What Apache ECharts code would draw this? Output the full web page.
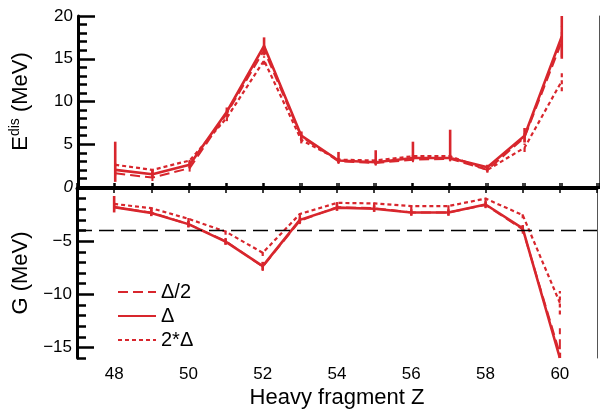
<!DOCTYPE html>
<html>
<head>
<meta charset="utf-8">
<script src="https://cdn.jsdelivr.net/npm/echarts@6/dist/echarts.min.js"></script>
<style>
  html, body { margin: 0; padding: 0; background: #fff; }
  #chart { width: 600px; height: 410px; }
</style>
</head>
<body>
<div id="chart"></div>
<script>
// Heavy fragment Z, shared by both panels
const zValues = [48, 49, 50, 51, 52, 53, 54, 55, 56, 57, 58, 59, 60];
const seriesNames = ['Δ/2', 'Δ', '2*Δ'];

// top panel: E_dis (MeV)
const eHalf = [1.6, 1.1, 2.2, 8.6, 16.0, 5.9, 3.0, 2.8, 3.2, 3.3, 2.0, 5.8, 17.0];
const eFull = [2.0, 1.5, 2.6, 8.8, 16.5, 6.0, 3.1, 2.9, 3.4, 3.4, 2.3, 6.0, 17.6];
const eDouble = [2.6, 2.0, 3.1, 8.1, 14.8, 5.5, 3.2, 3.1, 3.6, 3.6, 2.0, 4.6, 12.4];
// error bars as [below, above]
const eHalfErr = [[0.3, 0.3], [0.4, 0.4], [0.4, 0.4], [0.4, 0.4], [0.6, 0.6], [0.5, 0.5], [0.3, 0.3], [0.3, 0.3], [0.3, 0.3], [0.3, 0.3], [0.3, 0.3], [0.5, 0.5], [1.8, 1.8]];
const eFullErr = [[1.4, 3.3], [0.4, 0.5], [0.4, 0.4], [0.5, 0.5], [0.9, 1.0], [0.5, 0.5], [0.3, 1.0], [0.3, 1.4], [0.3, 1.9], [0.3, 3.3], [0.4, 0.3], [0.8, 0.9], [2.6, 2.6]];
const eDoubleErr = [[0.3, 0.3], [0.4, 0.4], [0.4, 0.4], [0.4, 0.4], [0.5, 0.5], [0.4, 0.4], [0.3, 0.3], [0.3, 0.3], [0.3, 0.3], [0.3, 0.3], [0.3, 0.3], [0.5, 0.5], [1.2, 1.2]];

// bottom panel: G (MeV)
const gHalf = [-1.8, -2.3, -3.4, -5.0, -7.4, -3.1, -1.8, -1.9, -2.3, -2.3, -1.6, -3.9, -15.6];
const gFull = [-1.8, -2.35, -3.4, -5.05, -7.35, -3.0, -1.85, -1.95, -2.3, -2.3, -1.55, -3.8, -16.0];
const gDouble = [-1.5, -1.9, -2.9, -4.1, -6.1, -2.45, -1.4, -1.45, -1.7, -1.7, -1.0, -2.55, -10.8];
const gHalfErr = [[0.3, 0.3], [0.3, 0.3], [0.3, 0.3], [0.3, 0.3], [0.4, 0.4], [0.3, 0.3], [0.3, 0.3], [0.3, 0.3], [0.3, 0.3], [0.3, 0.3], [0.3, 0.3], [0.4, 0.4], [2.4, 2.4]];
const gFullErr = [[0.5, 1.05], [0.3, 0.3], [0.3, 0.3], [0.3, 0.3], [0.4, 0.4], [0.3, 0.3], [0.3, 0.3], [0.3, 0.3], [0.3, 0.3], [0.3, 0.3], [0.3, 0.3], [0.3, 0.3], [0.5, 0.5]];
const gDoubleErr = [[0.3, 0.3], [0.3, 0.3], [0.3, 0.3], [0.3, 0.3], [0.3, 0.3], [0.3, 0.3], [0.3, 0.3], [0.3, 0.3], [0.3, 0.3], [0.3, 0.3], [0.3, 0.3], [0.3, 0.3], [1.1, 1.1]];

const gThreshold = -4;

const RED = '#d8262d';
const FONT = 'Liberation Sans, Arial, sans-serif';
const styles = [
  { type: [10, 5], width: 2 },
  { type: 'solid', width: 2.6 },
  { type: [4, 3], width: 2.2 }
];

const chart = echarts.init(document.getElementById('chart'));

function pairs(ys) {
  return zValues.map((z, i) => [z, ys[i]]);
}

function errData(ys, errs) {
  return zValues.map((z, i) => [z, ys[i] - errs[i][0], ys[i] + errs[i][1]]);
}

function lineSeries(name, ys, k, gridIdx, extra) {
  return Object.assign({
    name: name,
    type: 'line',
    xAxisIndex: gridIdx === 0 ? 0 : 2,
    yAxisIndex: gridIdx === 0 ? 0 : 2,
    data: pairs(ys),
    symbol: 'none',
    clip: true,
    lineStyle: { color: RED, width: styles[k].width, type: styles[k].type },
    itemStyle: { color: RED },
    z: k === 1 ? 4 : 3
  }, extra || {});
}

function errSeries(ys, errs, k, gridIdx) {
  return {
    type: 'custom',
    xAxisIndex: gridIdx === 0 ? 0 : 2,
    yAxisIndex: gridIdx === 0 ? 0 : 2,
    data: errData(ys, errs),
    clip: true,
    silent: true,
    z: 3,
    renderItem: (params, api) => {
      const lo = api.coord([api.value(0), api.value(1)]);
      const hi = api.coord([api.value(0), api.value(2)]);
      return {
        type: 'line',
        shape: { x1: lo[0], y1: lo[1], x2: hi[0], y2: hi[1] },
        style: {
          stroke: RED,
          lineWidth: styles[k].width,
          lineDash: typeof styles[k].type === 'string' ? null : styles[k].type
        }
      };
    }
  };
}

const topSets = [eHalf, eFull, eDouble];
const topErrs = [eHalfErr, eFullErr, eDoubleErr];
const botSets = [gHalf, gFull, gDouble];
const botErrs = [gHalfErr, gFullErr, gDoubleErr];

const series = [];
seriesNames.forEach((name, k) => {
  series.push(lineSeries(name, topSets[k], k, 0));
  series.push(errSeries(topSets[k], topErrs[k], k, 0));
});
seriesNames.forEach((name, k) => {
  const extra = k === 1 ? {
    markLine: {
      silent: true,
      symbol: 'none',
      label: { show: false },
      lineStyle: { color: '#000', type: [15, 7], width: 1.4 },
      data: [{ yAxis: gThreshold }]
    }
  } : null;
  series.push(lineSeries(name, botSets[k], k, 1, extra));
  series.push(errSeries(botSets[k], botErrs[k], k, 1));
});

const thick = { show: true, lineStyle: { color: '#000', width: 3 } };
const thin = { show: true, lineStyle: { color: '#555', width: 1 } };
const noTick = { show: false };

const option = {
  animation: false,
  textStyle: { fontFamily: FONT },
  grid: [
    { left: 77, top: 16, width: 522, height: 171 },
    { left: 77, top: 188, width: 522, height: 175 }
  ],
  legend: {
    data: seriesNames,
    orient: 'vertical',
    left: 112,
    top: 277,
    itemWidth: 38,
    itemHeight: 14,
    itemGap: 4,
    itemStyle: { opacity: 0 },
    textStyle: { fontSize: 20, color: '#000', fontFamily: FONT }
  },
  xAxis: [
    {
      type: 'value', gridIndex: 0, position: 'bottom', min: 47, max: 61, interval: 1,
      axisLine: thick,
      axisTick: { show: true, inside: true, length: 4, lineStyle: { color: '#000', width: 1.5 } },
      axisLabel: { show: false }, splitLine: { show: false }
    },
    {
      type: 'value', gridIndex: 0, position: 'top', min: 47, max: 61, interval: 1,
      axisLine: thick, axisTick: noTick, axisLabel: { show: false }, splitLine: { show: false }
    },
    {
      type: 'value', gridIndex: 1, position: 'bottom', min: 47, max: 61, interval: 1,
      axisLine: thick,
      axisTick: { show: true, inside: true, length: 5, lineStyle: { color: '#000', width: 1.5 } },
      axisLabel: {
        show: true, fontSize: 17, color: '#000', margin: 8,
        formatter: v => (v % 2 === 0 && v >= 48 && v <= 60) ? String(v) : ''
      },
      splitLine: { show: false },
      name: 'Heavy fragment Z', nameLocation: 'middle', nameGap: 29,
      nameTextStyle: { fontSize: 22, color: '#000', fontFamily: FONT }
    },
    {
      type: 'value', gridIndex: 1, position: 'top', min: 47, max: 61, interval: 1,
      axisLine: { show: false },
      axisTick: { show: true, inside: true, length: 5, lineStyle: { color: '#000', width: 1.5 } },
      axisLabel: { show: false }, splitLine: { show: false }
    }
  ],
  yAxis: [
    {
      type: 'value', gridIndex: 0, position: 'left', min: 0, max: 20, interval: 5,
      axisLine: thick,
      axisTick: { show: true, inside: true, length: 17, lineStyle: { color: '#000', width: 2.5 } },
      minorTick: { show: true, splitNumber: 5, length: 9, lineStyle: { color: '#000', width: 2.5 } },
      axisLabel: {
        fontSize: 17, color: '#000', margin: 5,
        formatter: v => v === 0 ? '{it|0}' : String(v),
        rich: { it: { fontStyle: 'italic', fontSize: 17, color: '#000', fontFamily: FONT } }
      },
      splitLine: { show: false },
      name: '{a|E}{s|dis}{a| (MeV)}', nameLocation: 'middle', nameGap: 44,
      nameTextStyle: {
        rich: {
          a: { fontSize: 22, color: '#000', fontFamily: FONT },
          s: { fontSize: 14, color: '#000', fontFamily: FONT, verticalAlign: 'bottom', padding: [0, 0, 12, 0] }
        }
      }
    },
    {
      type: 'value', gridIndex: 0, position: 'right', min: 0, max: 20,
      axisLine: thin, axisTick: noTick, axisLabel: { show: false }, splitLine: { show: false }
    },
    {
      type: 'value', gridIndex: 1, position: 'left', min: -16, max: 0, interval: 1,
      axisLine: thick,
      axisTick: { show: true, inside: true, length: 9, lineStyle: { color: '#000', width: 2.5 } },
      axisLabel: {
        fontSize: 17, color: '#000', margin: 5,
        formatter: v => (v % 5 === 0 && v !== 0) ? '\u2212' + Math.abs(v) : ''
      },
      splitLine: { show: false },
      name: 'G (MeV)', nameLocation: 'middle', nameGap: 44,
      nameTextStyle: { fontSize: 22, color: '#000', fontFamily: FONT }
    },
    {
      type: 'value', gridIndex: 1, position: 'left', min: -16, max: 0,
      axisLine: { show: false },
      axisTick: { show: true, inside: true, length: 17, customValues: [-15, -10, -5], lineStyle: { color: '#000', width: 2.5 } },
      axisLabel: { show: false }, splitLine: { show: false }
    },
    {
      type: 'value', gridIndex: 1, position: 'right', min: -16, max: 0,
      axisLine: thin, axisTick: noTick, axisLabel: { show: false }, splitLine: { show: false }
    }
  ],
  series: series
};

chart.setOption(option);
</script>
</body>
</html>
